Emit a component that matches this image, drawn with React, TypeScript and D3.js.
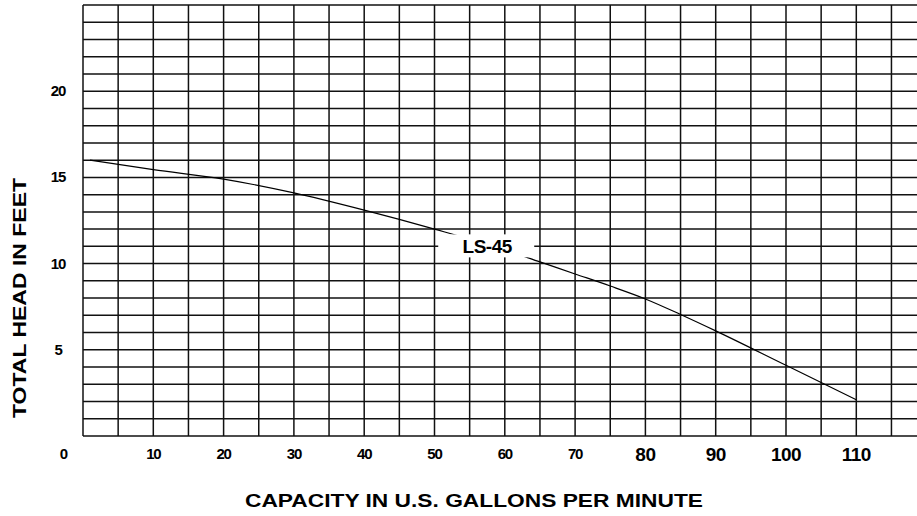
import React, { useEffect, useRef } from 'react';
import * as d3 from 'd3';

// Pump curve LS-45
const capacityGpm = [1, 10, 20, 30, 40, 50, 60, 65, 70, 75, 80, 85, 90, 100, 110];
const headFeet = [16.0, 15.45, 14.9, 14.1, 13.1, 12.0, 10.8, 10.1, 9.4, 8.7, 7.95, 7.05, 6.1, 4.1, 2.1];

const xTicksSmall = [10, 20, 30, 40, 50, 60, 70];
const xTicksLarge = [80, 90, 100, 110];
const yTicks = [5, 10, 15, 20];

const curveName = 'LS-45';
const curveLabelAt = { x: 57.5, y: 11 };

export default function App() {
  const svgRef = useRef<SVGSVGElement>(null);

  useEffect(() => {
    if (!svgRef.current) return;
    const svg = d3.select(svgRef.current);
    svg.selectAll('*').remove();

    const width = 917;
    const height = 516;
    const font = '"Liberation Sans", Arial, sans-serif';

    const x = d3.scaleLinear().domain([0, 120]).range([83, 83 + 120 * 7.03]);
    const y = d3.scaleLinear().domain([0, 25]).range([436, 5]);

    svg.append('rect').attr('width', width).attr('height', height).attr('fill', '#fff');

    // grid: 5 gpm columns, 1 ft rows
    const grid = svg.append('g').attr('stroke', '#111').attr('stroke-width', 1.5);
    d3.range(0, 121, 5).forEach(v => {
      grid.append('line')
        .attr('x1', x(v)).attr('x2', x(v))
        .attr('y1', y(25)).attr('y2', y(0));
    });
    d3.range(0, 26, 1).forEach(v => {
      grid.append('line')
        .attr('x1', x(0)).attr('x2', x(120))
        .attr('y1', y(v)).attr('y2', y(v));
    });

    // curve
    const pts = capacityGpm.map((c, i) => [c, headFeet[i]] as [number, number]);
    const line = d3.line<[number, number]>()
      .x(d => x(d[0]))
      .y(d => y(d[1]))
      .curve(d3.curveMonotoneX);
    svg.append('path')
      .datum(pts)
      .attr('fill', 'none')
      .attr('stroke', '#000')
      .attr('stroke-width', 1.2)
      .attr('d', line);

    // curve label with white knock-out
    const lx = x(curveLabelAt.x);
    const ly = y(curveLabelAt.y);
    svg.append('rect')
      .attr('x', lx - 49).attr('y', ly - 12)
      .attr('width', 96).attr('height', 23)
      .attr('fill', '#fff');
    svg.append('text')
      .attr('x', lx).attr('y', ly + 7)
      .attr('text-anchor', 'middle')
      .attr('font-family', font)
      .attr('font-weight', 'bold')
      .attr('font-size', 19)
      .attr('letter-spacing', -0.5)
      .text(curveName);

    // y tick labels
    yTicks.forEach(v => {
      svg.append('text')
        .attr('x', 58).attr('y', y(v) + 5)
        .attr('text-anchor', 'middle')
        .attr('font-family', font)
        .attr('font-weight', 'bold')
        .attr('font-size', 15)
        .attr('letter-spacing', -1.2)
        .text(v);
    });

    // x tick labels
    svg.append('text')
      .attr('x', x(0) - 19).attr('y', 459)
      .attr('text-anchor', 'middle')
      .attr('font-family', font)
      .attr('font-weight', 'bold')
      .attr('font-size', 15)
      .text(0);
    xTicksSmall.forEach(v => {
      svg.append('text')
        .attr('x', x(v)).attr('y', 459)
        .attr('text-anchor', 'middle')
        .attr('font-family', font)
        .attr('font-weight', 'bold')
        .attr('font-size', 15)
        .attr('letter-spacing', -1.2)
        .text(v);
    });
    xTicksLarge.forEach(v => {
      svg.append('text')
        .attr('x', x(v)).attr('y', 461)
        .attr('text-anchor', 'middle')
        .attr('font-family', font)
        .attr('font-weight', 'bold')
        .attr('font-size', 19)
        .attr('letter-spacing', -0.5)
        .text(v);
    });

    // axis titles
    svg.append('text')
      .attr('x', 474).attr('y', 507)
      .attr('text-anchor', 'middle')
      .attr('font-family', font)
      .attr('font-weight', 'bold')
      .attr('font-size', 19)
      .attr('textLength', 458)
      .attr('lengthAdjust', 'spacingAndGlyphs')
      .text('CAPACITY IN U.S. GALLONS PER MINUTE');

    svg.append('text')
      .attr('transform', `translate(26,298) rotate(-90)`)
      .attr('text-anchor', 'middle')
      .attr('font-family', font)
      .attr('font-weight', 'bold')
      .attr('font-size', 19)
      .attr('textLength', 240)
      .attr('lengthAdjust', 'spacingAndGlyphs')
      .text('TOTAL HEAD IN FEET');
  }, []);

  return (
    <svg
      ref={svgRef}
      width={917}
      height={516}
      viewBox="0 0 917 516"
      style={{ position: 'absolute', left: 0, top: 0, display: 'block', overflow: 'hidden' }}
    />
  );
}
